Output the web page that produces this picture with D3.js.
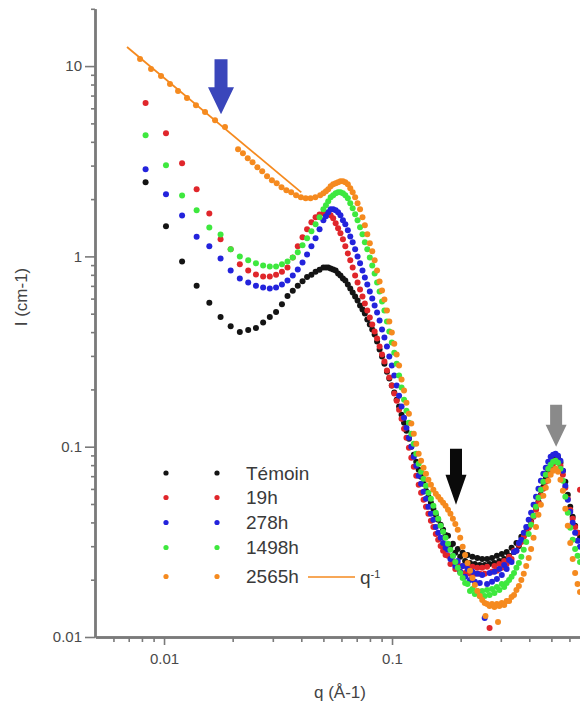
<!DOCTYPE html>
<html><head><meta charset="utf-8">
<script src="https://cdn.jsdelivr.net/npm/d3@7"></script>
<style>body{margin:0;background:#fff}svg{display:block}</style>
</head><body><svg id="c" width="580" height="704"></svg>
<script>
// ---------- data ----------
const seriesNames = ["Témoin", "19h", "278h", "1498h", "2565h"];
const seriesColors = ["#141414", "#e0262b", "#2323dc", "#3ee83e", "#f58a1f"];

// q values (Å-1): low-q part, then the dense high-q grid
const qLow = [0.0083,0.0102,0.0120,0.0139,0.0158,0.0177,0.0196,0.0215,0.0234,0.0253,0.0272,0.0291,0.0310,0.0329,0.0348,0.0367,0.0386,0.0405,0.0424,0.0443,0.0462,0.0481];
const qGrid = [0.0500,0.0513,0.0525,0.0538,0.0552,0.0566,0.0580,0.0594,0.0609,0.0624,
 0.0640,0.0656,0.0672,0.0689,0.0706,0.0724,0.0742,0.0760,0.0779,0.0799,
 0.0819,0.0839,0.0860,0.0882,0.0904,0.0926,0.0950,0.0973,0.0998,0.1023,
 0.1048,0.1074,0.1101,0.1129,0.1157,0.1186,0.1215,0.1246,0.1277,0.1309,
 0.1341,0.1375,0.1409,0.1444,0.1481,0.1518,0.1556,0.1594,0.1634,0.1675,
 0.1717,0.1760,0.1804,0.1849,0.1895,0.1942,0.1991,0.2041,0.2092,0.2144,
 0.2198,0.2253,0.2309,0.2367,0.2426,0.2486,0.2549,0.2612,0.2678,0.2745,
 0.2813,0.2884,0.2956,0.3030,0.3105,0.3183,0.3262,0.3344,0.3428,0.3513,
 0.3601,0.3691,0.3783,0.3878,0.3975,0.4074,0.4176,0.4281,0.4388,0.4497,
 0.4610,0.4725,0.4843,0.4964,0.5088,0.5216,0.5346,0.5480,0.5617,0.5757,
 0.5901,0.6049,0.6200,0.6355,0.6514,0.6677];
const qShared = qLow.concat(qGrid);

const iTemoin = [2.45,1.44,0.94,0.70,0.57,0.48,0.43,0.40,0.41,0.42,0.45,0.48,0.51,0.56,0.62,0.66,0.70,0.74,0.78,0.80,0.83,0.85,
 0.875,0.875,0.875,0.865,0.854,0.844,0.814,0.794,0.766,0.748,
 0.712,0.679,0.646,0.616,0.587,0.552,0.526,0.501,0.466,0.439,
 0.413,0.389,0.357,0.324,0.298,0.273,0.248,0.228,0.2095,0.1924,
 0.1767,0.1624,0.1474,0.1338,0.1214,0.1102,0.1,0.0908,0.0834,0.0757,
 0.0695,0.0639,0.0587,0.0546,0.0507,0.0472,0.0439,0.0413,0.0389,0.0366,
 0.0344,0.0340,0.0301,0.0309,0.0277,0.0290,0.0264,0.0277,0.0251,0.0270,
 0.0245,0.0264,0.0242,0.0260,0.0239,0.0257,0.0239,0.0257,0.0242,0.0260,
 0.0245,0.0267,0.0251,0.0273,0.0257,0.0280,0.0267,0.0294,0.0280,0.0312,
 0.0301,0.0336,0.0340,0.0357,0.0379,0.0403,0.0433,0.0472,0.0514,0.0559,
 0.0616,0.0679,0.0739,0.0794,0.0844,0.0875,0.0875,0.0824,0.0748,0.0654,
 0.0559,0.0483,0.0428,0.0384,0.0353,0.0332];

const i19h = [6.39,4.44,3.09,2.25,1.68,1.23,1.09,0.908,0.844,0.804,0.785,0.785,0.80,0.83,0.875,0.988,1.129,1.259,1.387,1.51,1.605,1.66,
 1.684,1.684,1.684,1.643,1.585,1.492,1.404,1.322,1.229,1.129,
 1.037,0.953,0.875,0.794,0.730,0.670,0.616,0.566,0.520,0.477,
 0.439,0.403,0.370,0.336,0.305,0.280,0.2512,0.2308,0.2095,0.1901,
 0.1746,0.1566,0.1404,0.1244,0.1115,0.0988,0.0875,0.0785,0.0704,0.0631,
 0.0573,0.0526,0.0483,0.0444,0.0408,0.0379,0.0348,0.0324,0.0301,0.0284,
 0.0270,0.0267,0.0242,0.0251,0.0228,0.0242,0.0220,0.0236,0.0217,0.0234,
 0.0215,0.0234,0.0215,0.0231,0.0215,0.0231,0.0215,0.0234,0.01115,0.0220,
 0.0236,0.0223,0.0242,0.0231,0.0251,0.0242,0.0264,0.0257,0.0284,0.0284,
 0.0305,0.0316,0.0336,0.0353,0.0375,0.0398,0.0428,0.0466,0.0507,0.0552,
 0.0601,0.0654,0.0712,0.0766,0.0814,0.0844,0.0834,0.0794,0.0712,0.0608,
 0.0533,0.0466,0.0418,0.0379,0.0353,0.0594];

const i278h = [2.87,2.12,1.64,1.27,1.13,0.976,0.844,0.766,0.730,0.70,0.687,0.679,0.687,0.712,0.748,0.794,0.854,0.93,1.024,1.13,1.244,1.387,
 1.547,1.624,1.704,1.767,1.767,1.746,1.704,1.643,1.547,1.474,
 1.371,1.274,1.185,1.089,1.0,0.919,0.844,0.775,0.712,0.654,
 0.601,0.552,0.507,0.460,0.413,0.375,0.336,0.298,0.267,0.2364,
 0.2095,0.1855,0.1624,0.1421,0.1259,0.1115,0.1,0.0886,0.0794,0.0704,
 0.0639,0.0580,0.0533,0.0483,0.0444,0.0413,0.0379,0.0353,0.0332,0.0312,
 0.0294,0.0287,0.0257,0.0267,0.0236,0.0251,0.0220,0.0236,0.0207,0.0228,
 0.01995,0.0220,0.0195,0.0215,0.0192,0.0212,0.01259,0.0190,0.0217,0.0195,
 0.0220,0.0202,0.0228,0.0212,0.0239,0.0228,0.0254,0.0248,0.0280,0.0284,
 0.0312,0.0324,0.0353,0.0379,0.0413,0.0449,0.0495,0.0546,0.0601,0.0662,
 0.0721,0.0775,0.0834,0.0886,0.0908,0.0919,0.0897,0.0844,0.0748,0.0623,
 0.0526,0.0455,0.0398,0.0353,0.0320,0.0298];

const i1498h = [4.33,3.01,2.09,1.75,1.42,1.305,1.09,1.0,0.953,0.919,0.897,0.886,0.886,0.908,0.94,0.988,1.05,1.143,1.244,1.354,1.474,1.605,
 1.767,1.855,1.947,2.045,2.095,2.146,2.172,2.172,2.146,2.095,
 2.020,1.901,1.789,1.664,1.547,1.421,1.306,1.185,1.089,0.988,
 0.897,0.814,0.730,0.654,0.580,0.520,0.455,0.403,0.353,0.312,
 0.273,0.2364,0.2045,0.1767,0.1547,0.1338,0.1171,0.1037,0.0919,0.0814,
 0.0739,0.0679,0.0623,0.0573,0.0533,0.0489,0.0449,0.0418,0.0384,0.0357,
 0.0332,0.0309,0.0287,0.0267,0.0248,0.0231,0.0217,0.0204,0.0192,0.0190,
 0.01746,0.01789,0.01684,0.01746,0.01643,0.01746,0.01643,0.01767,0.01664,0.01789,
 0.01704,0.01833,0.01767,0.0190,0.01833,0.0192,0.01995,0.0207,0.0217,0.0231,
 0.0245,0.0264,0.0287,0.0316,0.0348,0.0389,0.0433,0.0483,0.0539,0.0594,
 0.0654,0.0712,0.0766,0.0804,0.0834,0.0844,0.0824,0.0766,0.0662,0.0546,
 0.0449,0.0375,0.0324,0.0290,0.0267,0.0248];

const qOrangeLow = [0.00785,0.00877,0.00970,0.01062,0.01152,0.01261,0.01381,0.01513,0.01674,0.01851,
 0.02112,0.02218,0.02329,0.02445,0.02567,0.02695,0.02830,0.02972,0.03120,0.03276,0.03440,0.03612,0.03793,0.03982,0.04181,0.04390,0.04610,0.04840];
const qOrangeStray = [0.2917, 0.2570];
const q2565h = qOrangeLow.concat(qGrid, qOrangeStray);
const i2565h = [10.88,9.64,8.86,8.04,7.39,6.79,6.23,5.73,5.20,4.78,
 3.657,3.484,3.280,3.124,2.940,2.801,2.637,2.512,2.422,2.307,2.225,2.172,2.095,2.045,2.020,2.020,2.045,2.095,
 2.146,2.199,2.252,2.336,2.393,2.422,2.452,2.482,2.482,2.452,
 2.393,2.280,2.172,2.045,1.901,1.767,1.604,1.456,1.306,1.171,
 1.063,0.953,0.844,0.739,0.662,0.594,0.520,0.455,0.398,0.348,
 0.305,0.267,0.2252,0.1971,0.1704,0.1492,0.1322,0.1171,0.1037,0.0919,
 0.0844,0.0775,0.0721,0.0670,0.0631,0.0594,0.0566,0.0546,0.0526,0.0507,
 0.0489,0.0466,0.0444,0.0418,0.0393,0.0366,0.0332,0.0298,0.0270,0.0245,
 0.0223,0.0204,0.01878,0.01746,0.01643,0.01566,0.01510,0.01492,0.01456,0.01492,
 0.01439,0.01492,0.01456,0.01510,0.01474,0.01547,0.01547,0.01624,0.01664,0.01767,
 0.01855,0.01995,0.0215,0.0236,0.0260,0.0290,0.0332,0.0379,0.0439,0.0495,
 0.0552,0.0608,0.0662,0.0712,0.0748,0.0766,0.0739,0.0670,0.0587,0.0472,
 0.0384,0.0312,0.0257,0.0217,0.0190,0.01725,
 0.0120,0.0129];

// q^-1 reference line (two end points)
const fitQ = [0.00688, 0.0400];
const fitI = [12.6, 2.17];
const fitLabel = "q";
const fitExp = "-1";

// annotation arrows: q and intensity of the tip
const arrowQ = [0.01778, 0.1908, 0.5245];
const arrowI = [5.59, 0.0495, 0.1];
const arrowColors = ["#3a46bb", "#0a0a0a", "#8a8a8a"];

// axes
const xMajor = [0.01, 0.1];
const xMajorLabels = ["0.01", "0.1"];
const xMinor = [0.006,0.007,0.008,0.009,0.02,0.03,0.04,0.05,0.06,0.07,0.08,0.09,0.2,0.3,0.4,0.5,0.6,0.7];
const yMajor = [0.01, 0.1, 1, 10];
const yMajorLabels = ["0.01", "0.1", "1", "10"];
const yMinor = [0.02,0.03,0.04,0.05,0.06,0.07,0.08,0.09,0.2,0.3,0.4,0.5,0.6,0.7,0.8,0.9,2,3,4,5,6,7,8,9,20];
const xTitle = "q (Å-1)";
const yTitle = "I (cm-1)";

// ---------- drawing ----------
const svg = d3.select("#c");
const font = "'Liberation Sans', Arial, sans-serif";
const x = d3.scaleLog().domain([0.005, 0.7]).range([95.4, 584.7]);
const y = d3.scaleLog().domain([0.01, 20]).range([637, 8.8]);
const axisColor = "#7a7a7a";

function styleAxis(g) {
  g.select(".domain").attr("stroke", axisColor).attr("stroke-width", 2.4);
  g.selectAll(".tick line").attr("stroke", axisColor).attr("stroke-width", 1.6);
  g.selectAll(".tick text").attr("fill", "#4a4a4a").style("font-family", font).style("font-size", "15px");
}

const gyMin = svg.append("g").attr("transform", "translate(95,0)")
  .call(d3.axisLeft(y).tickValues(yMinor).tickSize(4).tickFormat(() => "").tickSizeOuter(0));
styleAxis(gyMin);
const gxMin = svg.append("g").attr("transform", "translate(0,637)")
  .call(d3.axisBottom(x).tickValues(xMinor).tickSize(5).tickFormat(() => "").tickSizeOuter(0));
styleAxis(gxMin);

const gy = svg.append("g").attr("transform", "translate(95,0)")
  .call(d3.axisLeft(y).tickValues(yMajor).tickSize(10).tickPadding(3)
    .tickFormat((d, i) => yMajorLabels[i]).tickSizeOuter(0));
styleAxis(gy);
const gx = svg.append("g").attr("transform", "translate(0,637)")
  .call(d3.axisBottom(x).tickValues(xMajor).tickSize(8).tickPadding(8)
    .tickFormat((d, i) => xMajorLabels[i]).tickSizeOuter(0));
styleAxis(gx);

svg.append("text").attr("x", 340).attr("y", 698).attr("text-anchor", "middle")
  .style("font-family", font).style("font-size", "17px").attr("fill", "#444").text(xTitle);
svg.append("text").attr("transform", "translate(27,297) rotate(-90)").attr("text-anchor", "middle")
  .style("font-family", font).style("font-size", "17px").attr("fill", "#444").text(yTitle);

const seriesData = [
  { name: seriesNames[0], color: seriesColors[0], q: qShared, v: iTemoin },
  { name: seriesNames[1], color: seriesColors[1], q: qShared, v: i19h },
  { name: seriesNames[2], color: seriesColors[2], q: qShared, v: i278h },
  { name: seriesNames[3], color: seriesColors[3], q: qShared, v: i1498h },
  { name: seriesNames[4], color: seriesColors[4], q: q2565h, v: i2565h }
];

const plot = svg.append("g");
plot.append("path")
  .datum(fitQ.map((q, i) => [q, fitI[i]]))
  .attr("d", d3.line().x(d => x(d[0])).y(d => y(d[1])))
  .attr("stroke", seriesColors[4]).attr("stroke-width", 1.8).attr("fill", "none");

seriesData.forEach(s => {
  plot.append("g").selectAll("circle")
    .data(s.q.map((q, i) => [q, s.v[i]]))
    .join("circle")
    .attr("cx", d => x(d[0])).attr("cy", d => y(d[1]))
    .attr("r", 3.0).attr("fill", s.color);
});

// arrows
const arrowDims = [
  { hw: 6.5, hh: 13, sl: 28, hl: 27 },
  { hw: 6, hh: 10.5, sl: 26, hl: 30 },
  { hw: 6, hh: 10.5, sl: 20, hl: 22 }
];
arrowQ.forEach((q, i) => {
  const tx = x(q), ty = y(arrowI[i]), d = arrowDims[i];
  const p = d3.path();
  p.moveTo(tx, ty);
  p.lineTo(tx - d.hh, ty - d.hl);
  p.lineTo(tx - d.hw, ty - d.hl);
  p.lineTo(tx - d.hw, ty - d.hl - d.sl);
  p.lineTo(tx + d.hw, ty - d.hl - d.sl);
  p.lineTo(tx + d.hw, ty - d.hl);
  p.lineTo(tx + d.hh, ty - d.hl);
  p.closePath();
  svg.append("path").attr("d", p.toString()).attr("fill", arrowColors[i]);
});

// legend
const legRows = [473, 497.5, 522.5, 547.5, 576.5];
const leg = svg.append("g");
seriesData.forEach((s, i) => {
  leg.append("circle").attr("cx", 166).attr("cy", legRows[i]).attr("r", 2.6).attr("fill", s.color);
  leg.append("circle").attr("cx", 217).attr("cy", legRows[i]).attr("r", 2.6).attr("fill", s.color);
  leg.append("text").attr("x", 246).attr("y", legRows[i]).attr("dy", "0.36em")
    .style("font-family", font).style("font-size", "19px").attr("fill", "#3a3a3a").text(s.name);
});
leg.append("line").attr("x1", 308).attr("x2", 355).attr("y1", 577).attr("y2", 577)
  .attr("stroke", seriesColors[4]).attr("stroke-width", 1.6);
const qt = leg.append("text").attr("x", 360).attr("y", 577).attr("dy", "0.36em")
  .style("font-family", font).style("font-size", "19px").attr("fill", "#3a3a3a");
qt.append("tspan").text(fitLabel);
qt.append("tspan").attr("dy", "-0.55em").style("font-size", "11px").text(fitExp);
</script>
</body></html>
